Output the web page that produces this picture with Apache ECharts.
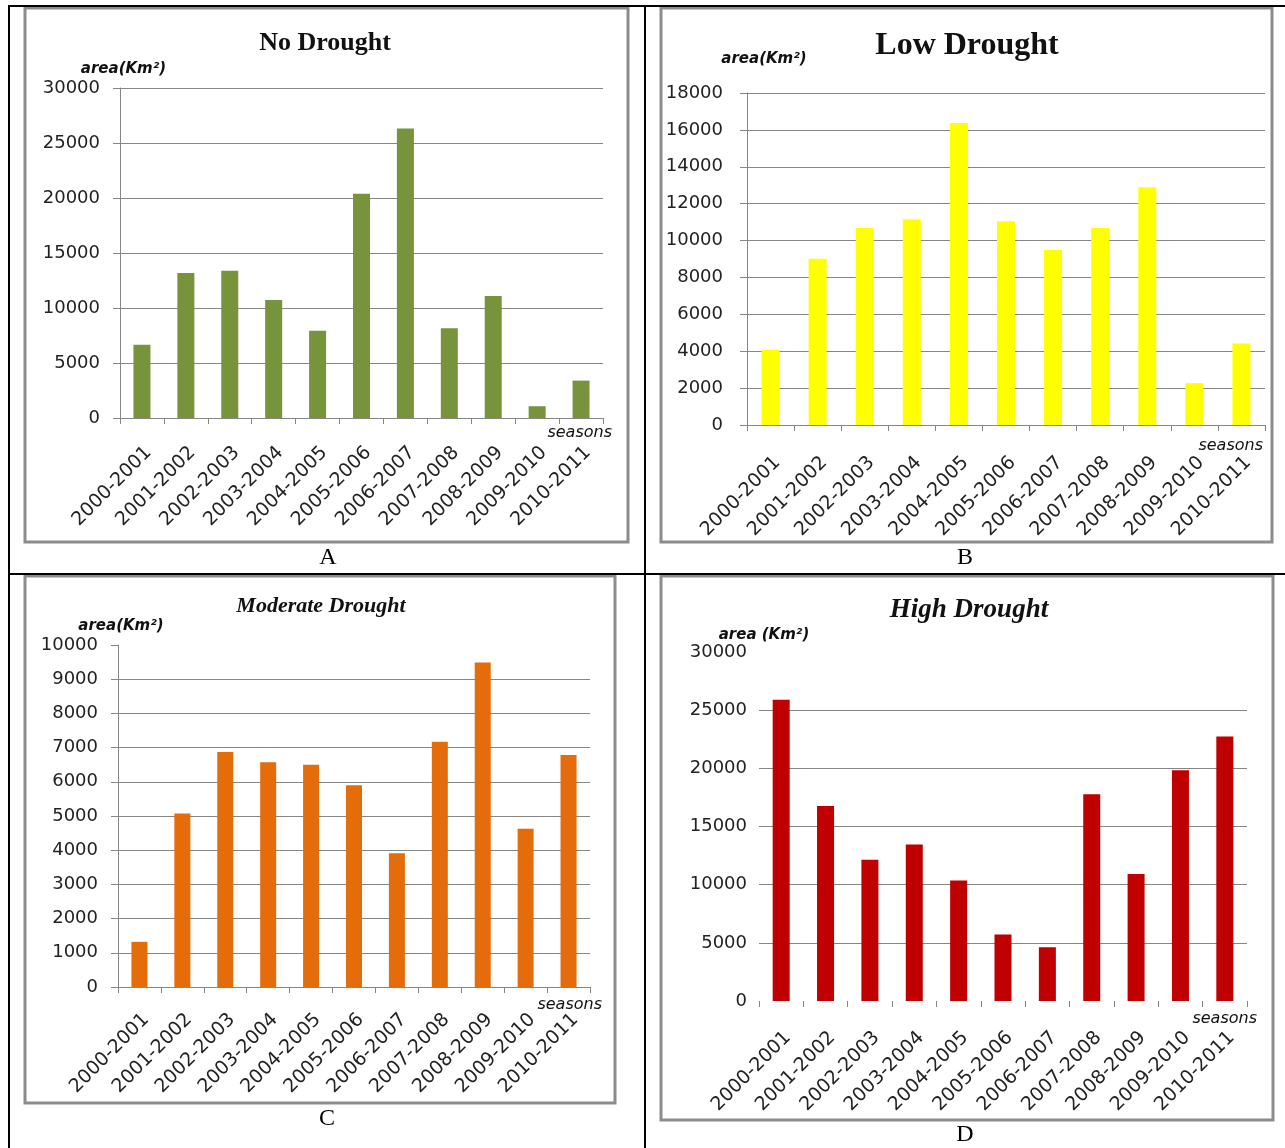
<!DOCTYPE html>
<html>
<head>
<meta charset="utf-8">
<title>Drought area by season</title>
<script src="https://cdn.jsdelivr.net/npm/echarts@6.0.0/dist/echarts.min.js"></script>
<style>
  html, body { margin: 0; padding: 0; background: #fff; }
  #main { width: 1285px; height: 1148px; }
</style>
</head>
<body>
<div id="main"></div>
<script>
// data
var seasons = ['2000-2001', '2001-2002', '2002-2003', '2003-2004', '2004-2005', '2005-2006',
               '2006-2007', '2007-2008', '2008-2009', '2009-2010', '2010-2011'];
var noDrought       = [6660, 13190, 13390, 10720, 7930, 20380, 26310, 8160, 11090, 1070, 3400];
var lowDrought      = [4080, 9010, 10680, 11160, 16370, 11040, 9490, 10680, 12890, 2270, 4420];
var moderateDrought = [1320, 5070, 6870, 6570, 6500, 5900, 3910, 7170, 9490, 4630, 6780];
var highDrought     = [25900, 16760, 12140, 13460, 10350, 5720, 4620, 17770, 10910, 19840, 22740];

var titles  = ['No Drought', 'Low Drought', 'Moderate Drought', 'High Drought'];
var letters = ['A', 'B', 'C', 'D'];
var yNames  = ['area(Km²)', 'area(Km²)', 'area(Km²)', 'area (Km²)'];
var xName   = 'seasons';
var yMax    = [30000, 18000, 10000, 30000];
var yStep   = [5000, 2000, 1000, 5000];

var seriesData = [noDrought, lowDrought, moderateDrought, highDrought];
var barColors  = ['#77933c', '#ffff00', '#e46c0a', '#c00000'];

var axisGray = '#868686';
var textColor = '#222';

// layout of each panel (pixels)
var panels = [
    { grid: {left: 120, top: 88, width: 483, height: 330}, barWidth: 17,
      xLine: true, yLine: true, minLine: true, maxLine: true,
      nameGap: 11, nameDx: 7, sGap: 9, sPad: 7, lblMargin: 25, yMargin: 20,
      frame: [25, 8, 603, 534], title: [325, 43, 26, 'normal'], letter: [328, 558] },
    { grid: {left: 747, top: 93, width: 518, height: 332}, barWidth: 18,
      xLine: true, yLine: true, minLine: true, maxLine: true,
      nameGap: 26, nameDx: 34, sGap: -2, sPad: 13, lblMargin: 28, yMargin: 24,
      frame: [661, 8, 611, 534], title: [967, 46, 32, 'normal'], letter: [965, 558] },
    { grid: {left: 118, top: 645, width: 472, height: 342}, barWidth: 16,
      xLine: true, yLine: true, minLine: true, maxLine: false,
      nameGap: 11, nameDx: 6, sGap: 12, sPad: 10, lblMargin: 23, yMargin: 20,
      frame: [25, 576, 590, 527], title: [321, 606, 22, 'italic'], letter: [327, 1119] },
    { grid: {left: 759, top: 652, width: 488, height: 349}, barWidth: 17,
      xLine: false, yLine: false, minLine: false, maxLine: false,
      nameGap: 9, nameDx: 10, sGap: 10, sPad: 10, lblMargin: 27, yMargin: 12,
      frame: [661, 576, 612, 544], title: [969, 610, 27, 'italic'], letter: [965, 1135] }
];

var chart = echarts.init(document.getElementById('main'));

var grids = [], xAxes = [], yAxes = [], series = [], graphics = [];

panels.forEach(function (p, i) {
    var g = Object.assign({outerBoundsMode: 'none', containLabel: false}, p.grid);
    grids.push(g);

    xAxes.push({
        type: 'category',
        gridIndex: i,
        data: seasons,
        boundaryGap: true,
        name: xName,
        nameLocation: 'end',
        nameGap: p.sGap,
        nameMoveOverlap: false,
        nameTextStyle: {
            fontFamily: 'DejaVu Sans', fontStyle: 'italic', fontSize: 16, color: '#111',
            align: 'right', verticalAlign: 'top', padding: [p.sPad, 0, 0, 0]
        },
        axisLine: {show: p.xLine, lineStyle: {color: axisGray, width: 1}},
        axisTick: {show: true, length: 6, lineStyle: {color: axisGray}},
        axisLabel: {
            rotate: 45, interval: 0, margin: p.lblMargin, verticalAlign: 'top',
            fontFamily: 'DejaVu Sans', fontSize: 19, color: textColor
        },
        splitLine: {show: false}
    });

    yAxes.push({
        type: 'value',
        gridIndex: i,
        min: 0,
        max: yMax[i],
        interval: yStep[i],
        name: yNames[i],
        nameLocation: 'end',
        nameGap: p.nameGap,
        nameTextStyle: {
            fontFamily: 'DejaVu Sans', fontStyle: 'italic', fontWeight: 'bold', fontSize: 15,
            color: '#111', align: 'center', padding: [0, 0, 0, p.nameDx]
        },
        axisLine: {show: p.yLine, lineStyle: {color: axisGray, width: 1}},
        axisTick: {show: p.yLine, length: 7, lineStyle: {color: axisGray}},
        axisLabel: {
            margin: p.yMargin, fontFamily: 'DejaVu Sans', fontSize: 18, color: textColor,
            formatter: function (v) { return String(v); }
        },
        splitLine: {
            show: true, showMinLine: p.minLine, showMaxLine: p.maxLine,
            lineStyle: {color: axisGray, width: 1}
        }
    });

    series.push({
        type: 'bar',
        xAxisIndex: i,
        yAxisIndex: i,
        data: seriesData[i],
        barWidth: p.barWidth,
        itemStyle: {color: barColors[i]},
        silent: true
    });

    // chart frame
    graphics.push({
        type: 'rect',
        shape: {x: p.frame[0], y: p.frame[1], width: p.frame[2], height: p.frame[3]},
        style: {fill: 'none', stroke: '#8c8c8c', lineWidth: 3}
    });
    // chart title
    graphics.push({
        type: 'text',
        x: p.title[0], y: p.title[1],
        style: {
            text: titles[i], fill: '#111',
            fontFamily: 'Liberation Serif', fontWeight: 'bold', fontStyle: p.title[3],
            fontSize: p.title[2], textAlign: 'center', textVerticalAlign: 'middle'
        }
    });
    // panel letter under the chart
    graphics.push({
        type: 'text',
        x: p.letter[0], y: p.letter[1],
        style: {
            text: letters[i], fill: '#000', fontFamily: 'Liberation Serif', fontSize: 24,
            textAlign: 'center', textVerticalAlign: 'middle'
        }
    });
});

// table rules around the panels
var rules = [
    [9, 6, 9, 1148],
    [8, 6, 1285, 6],
    [645, 6, 645, 1148],
    [9, 574, 1285, 574]
];
rules.forEach(function (r) {
    graphics.push({
        type: 'line',
        shape: {x1: r[0], y1: r[1], x2: r[2], y2: r[3]},
        style: {stroke: '#000', lineWidth: 2}
    });
});

var option = {
    animation: false,
    backgroundColor: '#fff',
    grid: grids,
    xAxis: xAxes,
    yAxis: yAxes,
    series: series,
    graphic: graphics
};
chart.setOption(option);
</script>
</body>
</html>
